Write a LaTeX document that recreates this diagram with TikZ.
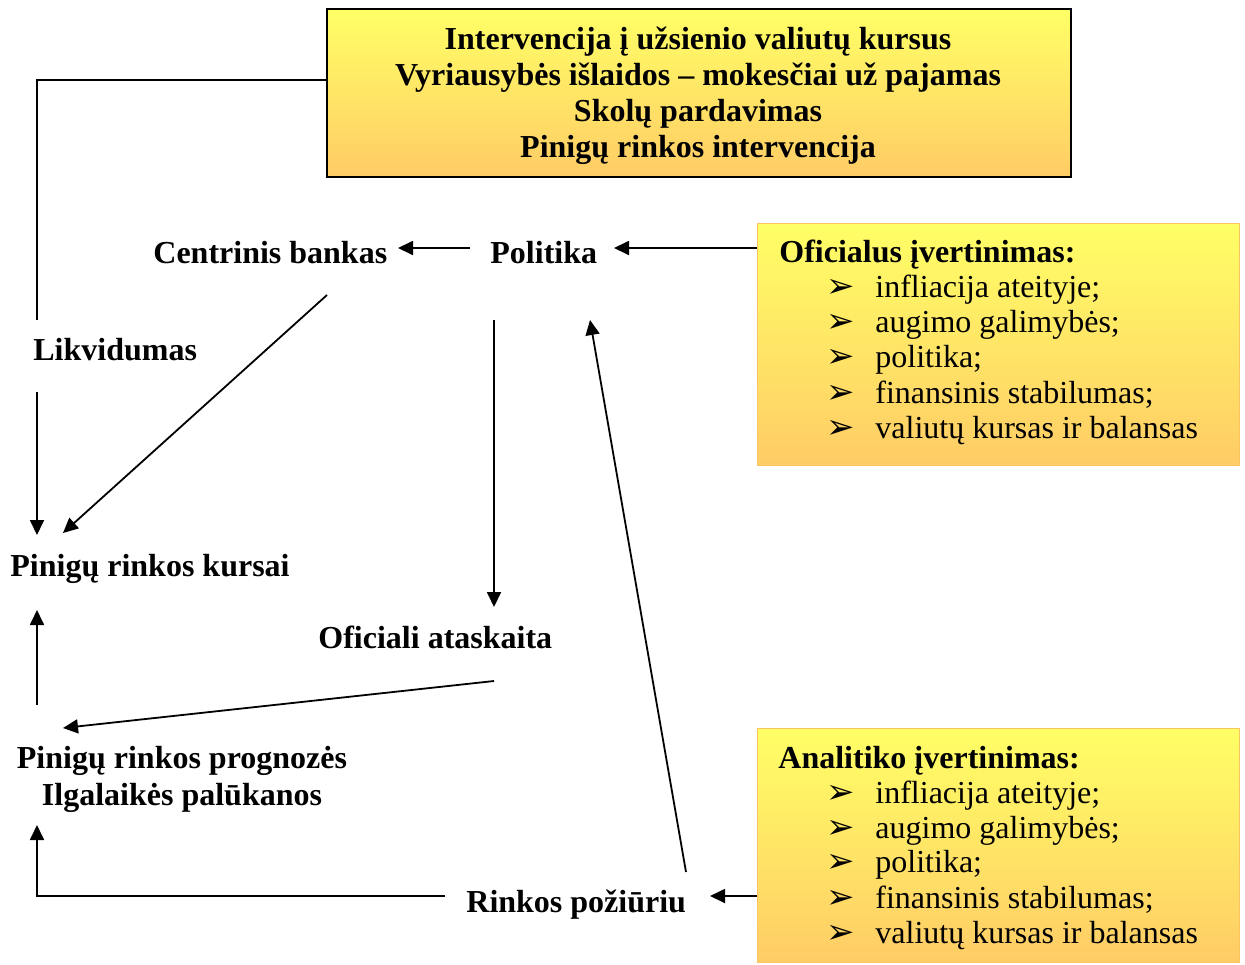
\documentclass[tikz,border=0pt]{standalone}
\usepackage{fontspec}
\setmainfont{Liberation Serif}
\newfontfamily\dingfont{DejaVu Sans}
\usetikzlibrary{arrows.meta}
\definecolor{ylw}{RGB}{255,255,102}
\definecolor{org}{RGB}{255,204,102}
\definecolor{bord}{RGB}{252,196,96}
\begin{document}
\begin{tikzpicture}[x=0.5pt,y=-0.5pt,
  lbl/.style={font=\bfseries\fontsize{16}{19}\selectfont, inner sep=0pt, anchor=base west},
  clbl/.style={font=\bfseries\fontsize{16}{19}\selectfont, inner sep=0pt, anchor=base},
  itm/.style={font=\fontsize{16}{19}\selectfont, inner sep=0pt, anchor=base west},
  bul/.style={font=\dingfont\fontsize{17}{19}\selectfont, inner sep=0pt, anchor=base west},
  arr/.style={line width=0.9pt, -{Triangle[length=7.5pt,width=7pt]}},
  ln/.style={line width=0.9pt},
  shbox/.style={top color=ylw, bottom color=org, inner sep=0pt, anchor=north west}]
\useasboundingbox (0,0) rectangle (1245,964);

% top box
\node[shbox, draw=black, line width=1pt, minimum width=372pt, minimum height=84pt] (topbox) at (326,8) {};
\node[clbl] (t1) at (698,49) {Intervencija į užsienio valiutų kursus};
\node[clbl] (t2) at (698,85) {Vyriausybės išlaidos – mokesčiai už pajamas};
\node[clbl] (t3) at (698,121) {Skolų pardavimas};
\node[clbl] (t4) at (698,157) {Pinigų rinkos intervencija};

% official box
\node[shbox, draw=bord, line width=0.6pt, minimum width=241pt, minimum height=121pt] (ofbox) at (757,223) {};
\node[lbl] (ofh) at (779,262) {Oficialus įvertinimas:};
\node[bul] (ob1) at (826,297) {➢}; \node[itm] (oi1) at (875,297) {infliacija ateityje;};
\node[bul] (ob2) at (826,332) {➢}; \node[itm] (oi2) at (875,332) {augimo galimybės;};
\node[bul] (ob3) at (826,367) {➢}; \node[itm] (oi3) at (875,367) {politika;};
\node[bul] (ob4) at (826,403) {➢}; \node[itm] (oi4) at (875,403) {finansinis stabilumas;};
\node[bul] (ob5) at (826,438) {➢}; \node[itm] (oi5) at (875,438) {valiutų kursas ir balansas};

% analyst box
\node[shbox, draw=bord, line width=0.6pt, minimum width=241pt, minimum height=117pt] (anbox) at (757,728) {};
\node[lbl] (anh) at (778,768) {Analitiko įvertinimas:};
\node[bul] (ab1) at (826,803) {➢}; \node[itm] (ai1) at (875,803) {infliacija ateityje;};
\node[bul] (ab2) at (826,838) {➢}; \node[itm] (ai2) at (875,838) {augimo galimybės;};
\node[bul] (ab3) at (826,872) {➢}; \node[itm] (ai3) at (875,872) {politika;};
\node[bul] (ab4) at (826,908) {➢}; \node[itm] (ai4) at (875,908) {finansinis stabilumas;};
\node[bul] (ab5) at (826,943) {➢}; \node[itm] (ai5) at (875,943) {valiutų kursas ir balansas};

% labels
\node[lbl] (cb) at (153,263) {Centrinis bankas};
\node[lbl] (pol) at (490,263) {Politika};
\node[lbl] (liq) at (33,360) {Likvidumas};
\node[lbl] (prk) at (10,576) {Pinigų rinkos kursai};
\node[lbl] (oa) at (318,648) {Oficiali ataskaita};
\node[clbl] (prp) at (182,768) {Pinigų rinkos prognozės};
\node[clbl] (ilp) at (182,805) {Ilgalaikės palūkanos};
\node[lbl] (rp) at (466,912) {Rinkos požiūriu};

% coordinates
\coordinate (c1) at (37,320);
\coordinate (c2) at (37,80);
\coordinate (c3) at (326,80);
\coordinate (c4) at (37,392);
\coordinate (c5) at (37,535);
\coordinate (c6) at (470,248);
\coordinate (c7) at (398,248);
\coordinate (c8) at (757,248);
\coordinate (c9) at (614,248);
\coordinate (c10) at (327,295);
\coordinate (c11) at (63,533);
\coordinate (c12) at (494,320);
\coordinate (c13) at (494,607);
\coordinate (c14) at (37,705);
\coordinate (c15) at (37,610);
\coordinate (c16) at (494,681);
\coordinate (c17) at (63,728);
\coordinate (c18) at (445,896);
\coordinate (c19) at (37,825);
\coordinate (c20) at (686,872);
\coordinate (c21) at (590,320);
\coordinate (c22) at (757,896);
\coordinate (c23) at (710,896);

\draw[ln] (c1) -- (c2) -- (c3);
\draw[arr] (c4) -- (c5);
\draw[arr] (c6) -- (c7);
\draw[arr] (c8) -- (c9);
\draw[arr] (c10) -- (c11);
\draw[arr] (c12) -- (c13);
\draw[arr] (c14) -- (c15);
\draw[arr] (c16) -- (c17);
\draw[arr] (c18) -| (c19);
\draw[arr] (c20) -- (c21);
\draw[arr] (c22) -- (c23);
\end{tikzpicture}
\end{document}
